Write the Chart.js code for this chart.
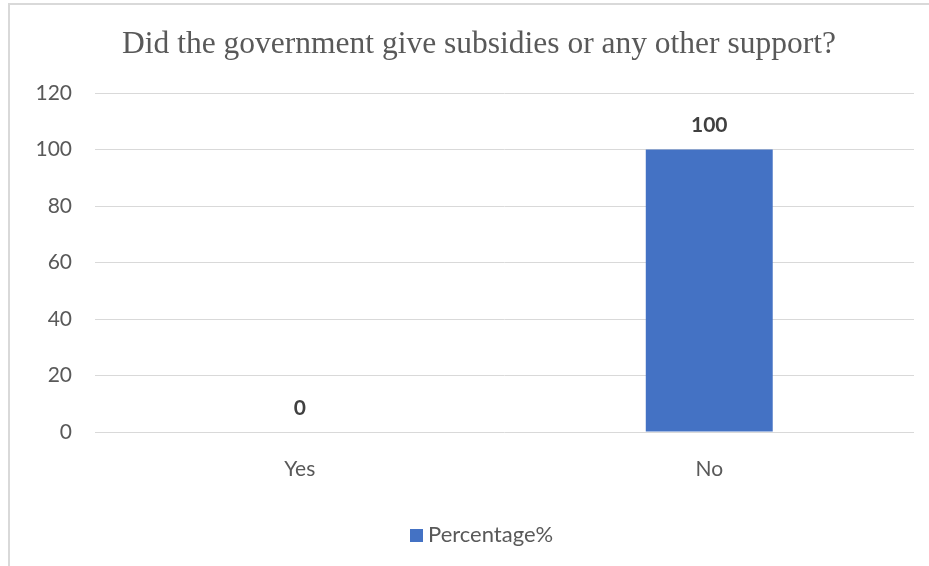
<!DOCTYPE html>
<html>
<head>
<meta charset="utf-8">
<script src="https://cdn.jsdelivr.net/npm/chart.js@4.4.1/dist/chart.umd.min.js"></script>
<style>
  html, body { margin: 0; padding: 0; background: #ffffff; }
  #wrap { position: relative; width: 929px; height: 566px; overflow: hidden; }
  #frame { position: absolute; left: 8px; top: 3px; right: -4px; bottom: -4px;
           border-left: 2px solid #d9d9d9; border-top: 2px solid #d9d9d9; pointer-events: none; }
  canvas { position: absolute; left: 0; top: 0; }
</style>
</head>
<body>
<div id="wrap">
  <canvas id="chart" width="929" height="566"></canvas>
  <div id="frame"></div>
</div>
<script>
// Survey answers and their share of respondents
const categories = ['Yes', 'No'];
const percentages = [0, 100];
const seriesName = 'Percentage%';
const yTicks = [0, 20, 40, 60, 80, 100, 120];
const titleText = 'Did the government give subsidies or any other support?';

const labelFont = "Lato, 'Open Sans', sans-serif";
const barColor = '#4472c4';

// Heading centred over the framed panel rather than the canvas
const panelTitle = {
  id: 'panelTitle',
  afterDraw(chart) {
    const ctx = chart.ctx;
    ctx.save();
    ctx.font = "31.5px 'Liberation Serif', 'Times New Roman', serif";
    ctx.fillStyle = '#595959';
    ctx.textAlign = 'center';
    ctx.textBaseline = 'middle';
    ctx.fillText(titleText, 479, 45);
    ctx.restore();
  }
};

// Single-entry key below the axis: colour swatch plus series name
const panelLegend = {
  id: 'panelLegend',
  afterDraw(chart) {
    const ctx = chart.ctx;
    const ds = chart.data.datasets[0];
    ctx.save();
    ctx.fillStyle = ds.backgroundColor;
    ctx.fillRect(410, 529, 13, 13);
    ctx.font = "22px " + labelFont;
    ctx.fillStyle = '#595959';
    ctx.textAlign = 'left';
    ctx.textBaseline = 'middle';
    ctx.fillText(ds.label, 428, 535);
    ctx.restore();
  }
};

// Writes each bar's value just above its top edge
const valueLabels = {
  id: 'valueLabels',
  afterDatasetsDraw(chart) {
    const ctx = chart.ctx;
    const meta = chart.getDatasetMeta(0);
    ctx.save();
    ctx.font = "bold 21px " + labelFont;
    ctx.fillStyle = '#404040';
    ctx.textAlign = 'center';
    ctx.textBaseline = 'middle';
    meta.data.forEach((bar, i) => {
      ctx.fillText(String(chart.data.datasets[0].data[i]), bar.x, bar.y - 24);
    });
    ctx.restore();
  }
};

new Chart(document.getElementById('chart'), {
  type: 'bar',
  data: {
    labels: categories,
    datasets: [{
      label: seriesName,
      data: percentages,
      backgroundColor: barColor,
      borderWidth: 0,
      barPercentage: 0.62,
      categoryPercentage: 0.5
    }]
  },
  options: {
    responsive: false,
    animation: false,
    layout: { padding: { left: 10, right: 15, top: 93, bottom: 55 } },
    plugins: {
      title: { display: false },
      legend: { display: false },
      tooltip: { enabled: false }
    },
    scales: {
      x: {
        afterFit(scale) { scale.height = 79; },
        grid: { display: false, drawTicks: false },
        border: { display: false },
        ticks: { color: '#595959', font: { family: labelFont, size: 21 }, padding: 25 }
      },
      y: {
        min: 0,
        max: 120,
        afterBuildTicks(scale) { scale.ticks = yTicks.map(v => ({ value: v })); },
        afterFit(scale) { scale.width = 85; },
        grid: { color: '#d9d9d9', lineWidth: 1, drawTicks: false },
        border: { display: false },
        ticks: { color: '#595959', font: { family: labelFont, size: 21 }, padding: 23 }
      }
    }
  },
  plugins: [valueLabels, panelTitle, panelLegend]
});
</script>
</body>
</html>
